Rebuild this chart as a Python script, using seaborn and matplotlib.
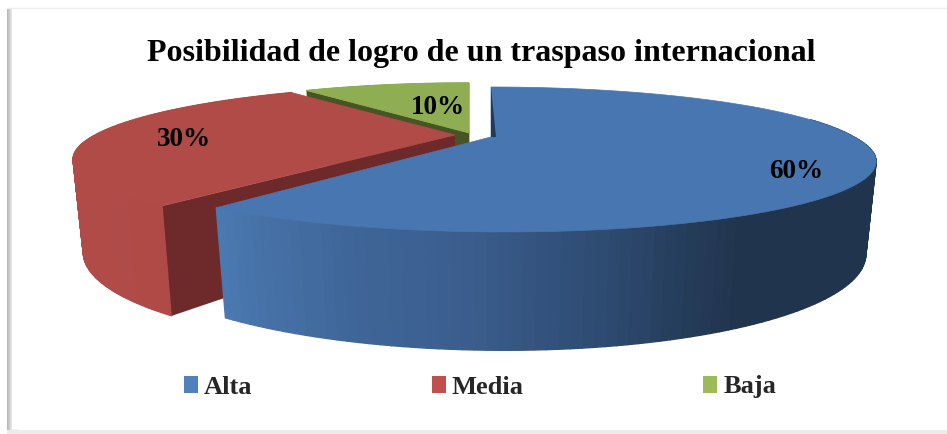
import numpy as np
import matplotlib
matplotlib.use('Agg')
from matplotlib import pyplot as plt
from matplotlib.patches import Rectangle
import seaborn as sns

labels = ['Alta', 'Media', 'Baja']
values = [60, 30, 10]
value_labels = ['60%', '30%', '10%']
title = 'Posibilidad de logro de un traspaso internacional'

top_colors = ['#4876b0', '#b04b48', '#8fad52']
side_colors = ['#2f4d74', '#6e2a2a', '#465523']
legend_colors = ['#4f81bd', '#c0504d', '#9bbb59']
wall_colors = [['#4a78b0', '#3f6699', '#3a5c8c', '#2d4a70', '#21344d', '#21344d'],
               ['#b04b48', '#ad4946'],
               ['#8fad52', '#8fad52']]

# pie "camera" in pixels
radii_x = [363, 360, 345]
RY, PERSP, DEPTH, DEPTH_W = 65.5, 0.31, 87, 0.025
apexes = [(491, 137), (455, 135), (469, 133)]
skew = [30, 0, 0]
shear = [0, -0.14, 0]
label_pos = [(796, 171), (184, 140), (438, 108)]

sns.set_theme(style='white')
plt.rcParams['font.family'] = ['Liberation Serif', 'DejaVu Serif']

def project(i, u, v, z=0.0):
    apex = apexes[i]
    w = 1 + PERSP * v + DEPTH_W * z
    w0 = 1 + PERSP * v
    x = radii_x[i] * u / w + skew[i] * np.maximum(0, 1 / w0 - 1)
    x = x + shear[i] * (-RY * v / w0)
    y = (-RY * v + DEPTH * z) / w
    return apex[0] + x, apex[1] + y

fig = plt.figure(figsize=(9.47, 4.34), dpi=100)
ax = fig.add_axes([0, 0, 1, 1])
ax.set_xlim(0, 947)
ax.set_ylim(434, 0)
ax.axis('off')

# page frame with soft shadow
for k, c in enumerate(sns.light_palette('#b8b8b8', 6, reverse=True)):
    ax.add_patch(Rectangle((7 + k, 8 + k * 0.3), 6, 422, color=c, lw=0, zorder=0))
ax.add_patch(Rectangle((12, 8), 935, 421, color='white', lw=0, zorder=0.5))
ax.plot([7, 947], [7.5, 7.5], color='#eeeeee', lw=1, zorder=0.6)
ax.add_patch(Rectangle((7, 430), 940, 4, color='#ececec', lw=0, zorder=0.6))

shares = np.array(values) / sum(values)
ends = np.cumsum(shares) * 2 * np.pi
starts = ends - shares * 2 * np.pi

# back to front: green, red, blue
for zo, i in enumerate([2, 1, 0]):
    apex = apexes[i]
    t = np.linspace(starts[i], ends[i], 160)
    u, v = np.sin(t), np.cos(t)
    base = 2 + zo * 2

    # outer wall as shaded strips
    strip_colors = sns.blend_palette(wall_colors[i], len(t) - 1)
    xt, yt = project(i, u, v)
    xb, yb = project(i, u, v, 1)
    for j in range(len(t) - 1):
        if v[j] > 0.3 and i == 0:
            continue
        frac = (xt[j] - xt.min()) / (xt.max() - xt.min())
        c = strip_colors[int(frac * (len(t) - 2))]
        ax.fill([xt[j], xt[j + 1], xb[j + 1], xb[j]],
                [yt[j], yt[j + 1], yb[j + 1], yb[j]],
                color=c, lw=1, zorder=base)

    # cut face seen from the front
    if i != 0:
        ue, ve = np.sin(starts[i]), np.cos(starts[i])
        x1, y1 = project(i, ue, ve)
        x2, y2 = project(i, ue, ve, 1)
        x3, y3 = project(i, 0, 0, 1)
        ax.fill([apex[0], x1, x2, x3], [apex[1], y1, y2, y3],
                color=side_colors[i], lw=0, zorder=base + 0.5)

    # top face
    ax.fill(np.r_[apex[0], xt], np.r_[apex[1], yt], color=top_colors[i],
            lw=0.5, zorder=base + 1)

# thin dark sliver by the first cut of the big slice
xr, yr = project(0, 0, 1)
ax.fill([xr, apexes[0][0], apexes[0][0] + 5], [yr, apexes[0][1], apexes[0][1]],
        color='#23395a', lw=0, zorder=8)

for txt, pos in zip(value_labels, label_pos):
    ax.text(pos[0], pos[1], txt, ha='center', va='center', fontsize=19.5,
            fontweight='bold', color='black', zorder=10)

ax.text(481, 53, title, ha='center', va='center', fontsize=23,
        fontweight='bold', color='black', zorder=10)

handles = [Rectangle((0, 0), 1, 1, color=c, lw=0) for c in legend_colors]
ax.legend(handles, labels, ncol=3, frameon=False, loc='center',
          bbox_to_anchor=(480 / 947, 1 - 387 / 434),
          prop={'family': 'Liberation Serif', 'weight': 'bold', 'size': 19},
          handlelength=0.53, handleheight=0.6, handletextpad=0.23,
          columnspacing=6.8, borderpad=0)

fig.savefig('out.png', dpi=100)
